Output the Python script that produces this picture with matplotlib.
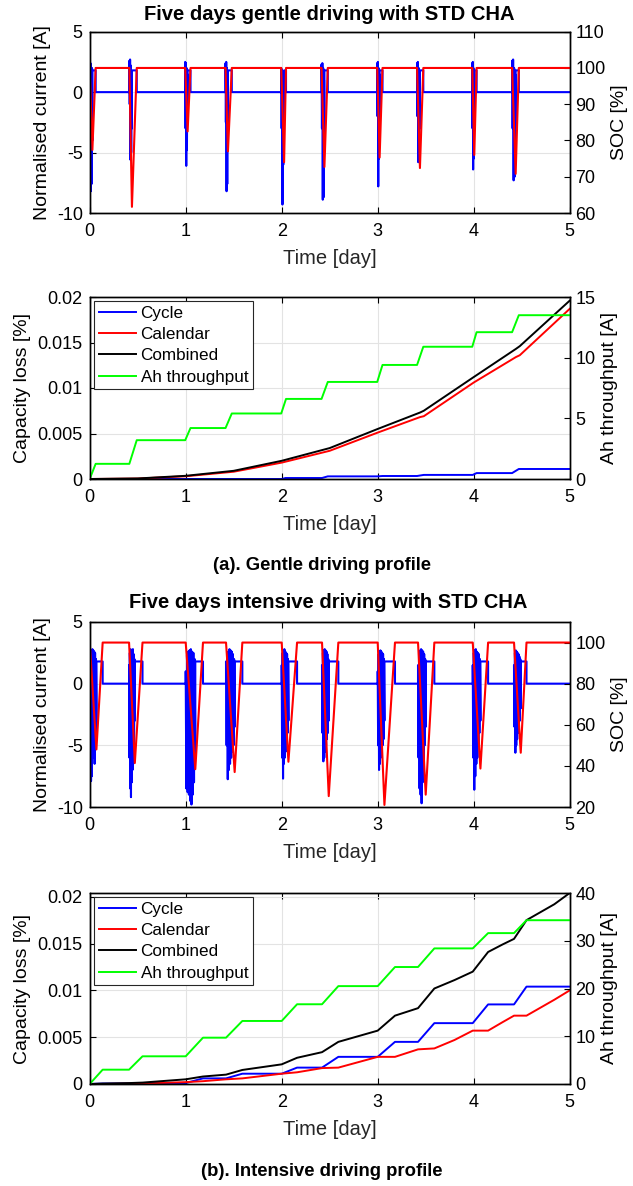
import matplotlib
matplotlib.use("Agg")
import matplotlib.pyplot as plt
import numpy as np

plt.rcParams['font.family'] = ['Liberation Sans', 'DejaVu Sans']
plt.rcParams['axes.unicode_minus'] = False

W, H = 633, 1186
CHARGE_CURRENT = 1.8

# ---- gentle driving: one row per trip (start, end of driving, back at full charge)
g_start = [0.0, 0.413, 0.995, 1.415, 1.995, 2.415, 2.995, 3.41, 3.985, 4.40]
g_end = [0.028, 0.44, 1.02, 1.44, 2.025, 2.445, 3.02, 3.44, 4.006, 4.437]
g_full = [0.062, 0.49, 1.05, 1.48, 2.045, 2.48, 3.05, 3.475, 4.03, 4.47]
g_soc_min = [77.4, 61.7, 82.5, 77.0, 74.0, 72.7, 75.3, 72.4, 76.0, 70.8]
g_current = [
    [2.5, -2.0, 2.4, -8.2, 1.5, -7.6, 2.0, -4.0],
    [2.6, -1.0, 2.7, -5.6, 2.2, -5.0, 1.0, -3.0],
    [2.5, -3.0, 2.4, -6.1, 2.0, -4.8, 1.5, -2.5],
    [2.4, -2.5, 2.5, -8.2, 2.0, -7.6, 1.0, -4.0],
    [2.0, -3.0, 1.8, -9.3, 1.5, -6.0, 1.0, -2.0],
    [2.3, -3.0, 2.4, -8.9, 2.0, -8.7, 1.0, -4.0],
    [2.4, -2.0, 2.5, -7.8, 2.0, -5.5, 1.5, -3.0],
    [2.4, -2.0, 2.5, -5.8, 2.0, -5.0, 1.0, -3.0],
    [2.4, -3.0, 2.5, -6.4, 2.0, -5.5, 1.5, -2.0],
    [2.6, -3.0, 2.7, -7.3, 2.0, -7.0, 1.5, -4.0],
]
g_ah = [0, 1.25, 3.2, 4.2, 5.4, 6.6, 8.0, 9.4, 10.9, 12.1, 13.5]

g_t_cal = [0, 0.5, 1.0, 1.5, 2.0, 2.5, 3.0, 3.44, 3.48, 4.0, 4.44, 4.48, 5.0]
g_calendar = [0, 0.00005, 0.0003, 0.0008, 0.0018, 0.0031, 0.0051, 0.0068, 0.0069,
              0.0106, 0.0134, 0.0136, 0.0187]
g_combined = [0, 0.00006, 0.00035, 0.0009, 0.0020, 0.0034, 0.0055, 0.0073, 0.0075,
              0.0112, 0.0143, 0.0146, 0.0196]
g_t_cyc = [0, 2.0, 2.04, 2.42, 2.48, 3.0, 3.05, 3.41, 3.48, 3.99, 4.03, 4.40, 4.47, 5.0]
g_cycle = [0, 0, 0.00011, 0.00011, 0.00029, 0.00029, 0.00033, 0.00033, 0.00045,
           0.00045, 0.00065, 0.00065, 0.0011, 0.0011]

# ---- intensive driving
i_start = [0.0, 0.41, 1.0, 1.42, 2.0, 2.42, 3.0, 3.42, 3.99, 4.42]
i_end = [0.07, 0.47, 1.10, 1.51, 2.07, 2.49, 3.07, 3.50, 4.07, 4.49]
i_full = [0.135, 0.55, 1.18, 1.59, 2.16, 2.59, 3.18, 3.59, 4.15, 4.55]
i_soc_min = [48.0, 41.4, 38.4, 37.0, 42.0, 25.3, 21.0, 26.0, 38.7, 46.4]
i_current = [
    [1.6, -4.0, 2.6, -7.9, 2.7, -7.5, 2.8, -6.0, 2.7, -5.5, 2.6, -6.5, 2.5, -4.5, 2.0, -3.0],
    [1.5, -6.0, 2.5, -8.5, 2.8, -9.2, 2.7, -8.0, 2.6, -7.0, 2.8, -6.5, 2.4, -5.0, 2.0, -3.0],
    [1.0, -8.5, 2.3, -8.8, 2.6, -9.0, 2.7, -9.5, 2.8, -9.8, 2.6, -9.0, 2.5, -8.0, 2.0, -6.0],
    [1.8, -5.0, 2.5, -7.75, 2.6, -7.0, 2.8, -6.5, 2.7, -6.0, 2.6, -5.5, 2.4, -5.0, 2.0, -3.5],
    [1.5, -6.0, 2.5, -7.7, 2.7, -6.5, 2.8, -6.0, 2.6, -5.5, 2.5, -5.0, 2.4, -4.0, 2.0, -3.0],
    [1.5, -4.0, 2.5, -6.3, 2.7, -6.0, 2.8, -5.5, 2.7, -5.0, 2.6, -4.5, 2.4, -4.0, 2.0, -3.0],
    [1.0, -5.0, 2.4, -7.0, 2.6, -6.5, 2.7, -6.0, 2.6, -5.5, 2.5, -5.0, 2.4, -4.5, 2.0, -3.0],
    [1.5, -6.0, 2.5, -8.5, 2.7, -9.0, 2.8, -9.7, 2.7, -8.0, 2.6, -7.0, 2.4, -5.0, 2.0, -3.5],
    [1.5, -6.0, 2.5, -8.6, 2.7, -7.5, 2.8, -6.5, 2.6, -6.0, 2.5, -5.0, 2.4, -4.0, 2.0, -3.0],
    [1.5, -3.5, 2.5, -5.6, 2.7, -5.0, 2.6, -4.5, 2.5, -4.0, 2.4, -3.5, 2.2, -3.0, 2.0, -2.0],
]
i_ah = [0, 3.0, 5.8, 9.7, 13.2, 16.7, 20.5, 24.5, 28.4, 31.6, 34.3]

i_t_deg = [0, 0.135, 0.41, 0.55, 1.0, 1.18, 1.42, 1.59, 2.0, 2.16, 2.42, 2.59,
           3.0, 3.18, 3.42, 3.59, 3.8, 3.99, 4.15, 4.3, 4.42, 4.55, 4.84, 5.0]
i_cycle = [0, 0.00005, 0.00005, 0.0001, 0.0001, 0.0006, 0.0006, 0.0011, 0.0011, 0.00175,
           0.00175, 0.0029, 0.0029, 0.0045, 0.0045, 0.0065, 0.0065, 0.0065, 0.0085, 0.0085,
           0.0085, 0.0104, 0.0104, 0.0104]
i_calendar = [0, 0, 0.00003, 0.00005, 0.0002, 0.0003, 0.0005, 0.0006, 0.0011, 0.00125,
              0.0017, 0.00175, 0.0029, 0.0029, 0.0037, 0.0038, 0.0047, 0.0057, 0.0057, 0.0066,
              0.0073, 0.0073, 0.0090, 0.0100]
i_combined = [0, 0.00005, 0.0001, 0.00015, 0.0005, 0.0008, 0.001, 0.0015, 0.0021, 0.0028,
              0.0034, 0.0045, 0.0057, 0.0073, 0.0081, 0.0102, 0.0111, 0.0120, 0.0141, 0.0149,
              0.0155, 0.0175, 0.0192, 0.0204]


def current_trace(starts, ends, fulls, bursts):
    t, cur = [0.0], [0.0]
    for s, e, f, vals in zip(starts, ends, fulls, bursts):
        t += [s] + list(np.linspace(s, e, len(vals))) + [e, f, f]
        cur += [0.0] + vals + [CHARGE_CURRENT, CHARGE_CURRENT, 0.0]
    return t + [5.0], cur + [0.0]


def soc_trace(starts, ends, fulls, mins):
    t, soc = [], []
    for s, e, f, m in zip(starts, ends, fulls, mins):
        t += [s, e, f]
        soc += [100, m, 100]
    return t + [5.0], soc + [100]


def ah_trace(starts, fulls, levels):
    t, ah = [0.0], [levels[0]]
    for k, (s, f) in enumerate(zip(starts, fulls)):
        t += [s, f]
        ah += [levels[k], levels[k + 1]]
    return t + [5.0], ah + [levels[-1]]


def style(ax, twin):
    ax.set_xlim(0, 5)
    ax.set_xticks(range(6))
    ax.grid(True, color='#e3e3e3', lw=0.8)
    ax.set_axisbelow(True)
    ax.tick_params(direction='in', labelsize=13, length=4, top=True, right=False)
    ax.tick_params(axis='x', pad=7)
    ax.tick_params(axis='y', pad=5)
    twin.tick_params(direction='in', labelsize=13, length=4, pad=4)
    for a in (ax, twin):
        for sp in a.spines.values():
            sp.set_linewidth(1.0)
    ax.set_xlabel('Time [day]', fontsize=14.5, labelpad=7, color='#262626')


def add_ax(top, bottom):
    l, r = 89.7, 569.7
    return fig.add_axes([l / W, 1 - bottom / H, (r - l) / W, (bottom - top) / H])


def current_panel(ax, starts, ends, fulls, bursts, mins, soc_lim, soc_ticks):
    tw = ax.twinx()
    t, cur = current_trace(starts, ends, fulls, bursts)
    ax.plot(t, cur, color='blue', lw=1.5)
    ts, soc = soc_trace(starts, ends, fulls, mins)
    tw.plot(ts, soc, color='red', lw=1.5)
    ax.set_ylim(-10, 5)
    ax.set_yticks([-10, -5, 0, 5])
    tw.set_ylim(*soc_lim)
    tw.set_yticks(soc_ticks)
    ax.set_ylabel('Normalised current [A]', fontsize=14, labelpad=4)
    tw.set_ylabel('SOC [%]', fontsize=14, labelpad=4)
    style(ax, tw)


def loss_panel(ax, t_cyc, cyc, t_cal, cal, comb, starts, fulls, ah, loss_top, ah_lim, ah_ticks):
    tw = ax.twinx()
    h1, = ax.plot(t_cyc, cyc, color='blue', lw=1.4, label='Cycle')
    h2, = ax.plot(t_cal, cal, color='red', lw=1.4, label='Calendar')
    h3, = ax.plot(t_cal, comb, color='black', lw=1.4, label='Combined')
    ta, va = ah_trace(starts, fulls, ah)
    h4, = tw.plot(ta, va, color='#00ff00', lw=1.4, label='Ah throughput')
    ax.set_ylim(0, loss_top)
    ax.set_yticks([0, 0.005, 0.01, 0.015, 0.02], labels=['0', '0.005', '0.01', '0.015', '0.02'])
    tw.set_ylim(*ah_lim)
    tw.set_yticks(ah_ticks)
    ax.set_ylabel('Capacity loss [%]', fontsize=14, labelpad=5)
    tw.set_ylabel('Ah throughput [A]', fontsize=14, labelpad=4)
    style(ax, tw)
    leg = tw.legend(handles=[h1, h2, h3, h4], loc='upper left', fontsize=12.3,
                    fancybox=False, framealpha=1, edgecolor='#262626',
                    borderpad=0.28, labelspacing=0.36, handlelength=2.2,
                    handletextpad=0.25, borderaxespad=0.25)
    leg.get_frame().set_linewidth(0.8)


fig = plt.figure(figsize=(W / 100, H / 100), dpi=100)

ax1 = add_ax(31.7, 213)
current_panel(ax1, g_start, g_end, g_full, g_current, g_soc_min, (60, 110), range(60, 111, 10))
ax2 = add_ax(297, 479)
loss_panel(ax2, g_t_cyc, g_cycle, g_t_cal, g_calendar, g_combined, g_start, g_full, g_ah,
           0.02, (0, 15), [0, 5, 10, 15])

ax3 = add_ax(622, 807)
current_panel(ax3, i_start, i_end, i_full, i_current, i_soc_min, (20, 110), range(20, 101, 20))
ax4 = add_ax(893, 1084)
loss_panel(ax4, i_t_deg, i_cycle, i_t_deg, i_calendar, i_combined, i_start, i_full, i_ah,
           0.0204, (0, 40), [0, 10, 20, 30, 40])

fig.text(329 / W, 1 - 15 / H, 'Five days gentle driving with STD CHA',
         ha='center', va='center', fontsize=14.5, fontweight='bold')
fig.text(328 / W, 1 - 603 / H, 'Five days intensive driving with STD CHA',
         ha='center', va='center', fontsize=14.5, fontweight='bold')
fig.text(322 / W, 1 - 565 / H, '(a). Gentle driving profile',
         ha='center', va='center', fontsize=13.3, fontweight='bold')
fig.text(322 / W, 1 - 1172 / H, '(b). Intensive driving profile',
         ha='center', va='center', fontsize=13.3, fontweight='bold')

fig.savefig('out.png', dpi=100)
